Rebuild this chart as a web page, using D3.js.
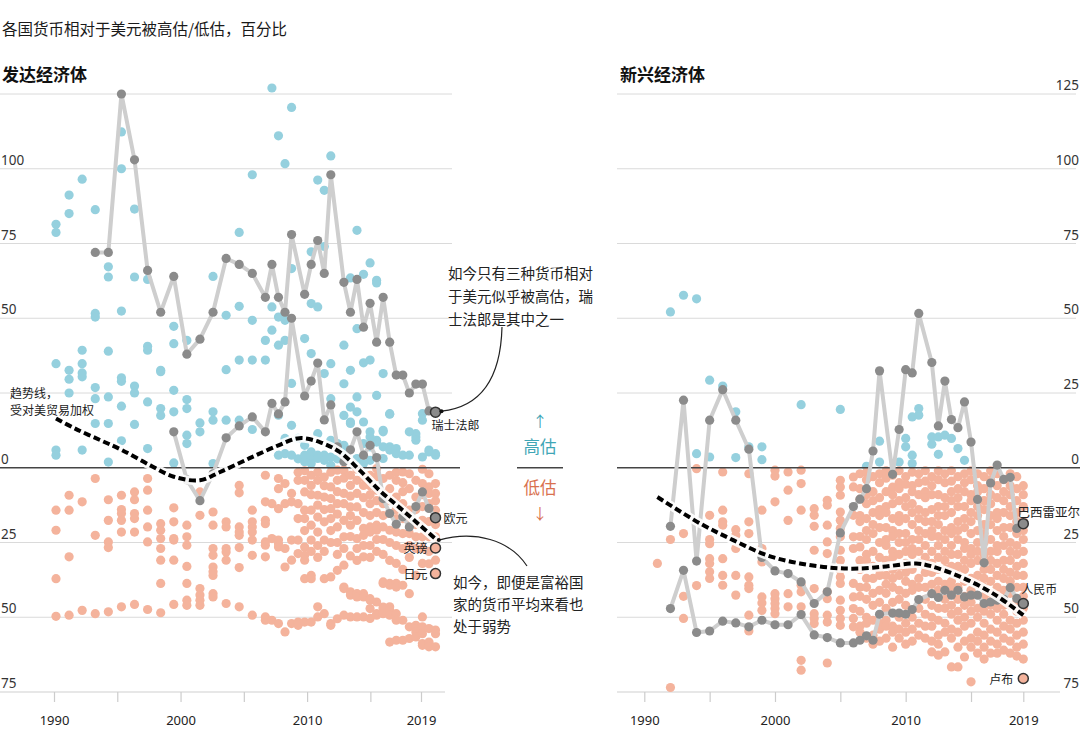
<!DOCTYPE html>
<html><head><meta charset="utf-8">
<script src="https://cdn.jsdelivr.net/npm/d3@7"></script>
<style>
body{margin:0;background:#fff;}
svg{display:block;font-family:"Noto Sans CJK SC","Noto Sans",sans-serif;}
</style></head><body>
<script>
// ---------------- DATA ----------------
const periods = [1990,1991,1992,1993,1994,1995,1996,1997,1998,1999,2000,2001,2002,2003,2004,2005,2006,
  2006.5,2007,2007.5,2008,2008.5,2009,2009.5,2010,2010.5,2011,2011.5,2012,2012.5,2013,2013.5,2014,2014.5,
  2015,2015.5,2016,2016.5,2017,2017.5,2018,2018.5,2019];

// Developed economies: all currencies, % over(+)/under(-) valued vs US dollar
const devValues = [
  [81.4,78.7,34.8,5.9,4.2,-14.2,-20.9,-37.1,-49.7],
  [91.2,85,32.6,29.6,25,-9.2,-14.2,-29.8,-49.3],
  [96.5,39.3,34.8,31.7,30.4,5.9,-11.4,-47.7],
  [86.3,51.6,50.4,26.8,23.1,14.8,-3.6,-22.6,-48.8],
  [67.2,63.8,39,23.7,14.8,1.9,-10.7,-17.6,-24.8,-26.7,-48.2],
  [112.3,100,52.4,30.1,28.9,20.6,9,-9.2,-14,-15.3,-17.6,-21.5,-46.5],
  [86.5,63.8,27.3,25,14.5,-8.1,-10.7,-15.3,-17,-21.5,-45.7],
  [63,40.6,39.3,22,6.4,-3.6,-7.5,-14.2,-19.8,-24.8,-47.4],
  [32.6,32.1,19.8,17.5,-18.7,-20.9,-23.7,-27,-30.9,-38.7,-48.5],
  [47.3,41.5,25.9,18.7,1.6,-13.4,-18.1,-23.7,-24.2,-30.9,-45.7],
  [42.6,22.8,19.8,10.9,8.1,-19.2,-23.1,-25.9,-33,-38.7,-44.3,-46],
  [15,12,-8.1,-15.9,-40.4,-42.6,-44.3,-46],
  [64,18.7,15.9,1.4,-14.8,-19.2,-27,-29.3,-33.2,-34.8,-36,-42.1,-43.2],
  [51,32.8,15.9,-18.1,-19.8,-27,-28.2,-30.9,-45.4],
  [78.7,54,36,15.9,-5.9,-8.4,-19.8,-21.5,-22.6,-26.7,-33.4,-46.5],
  [98,49.3,36,12.8,-14.2,-18.1,-19.8,-21.5,-24.2,-29.3,-49.3],
  [42.6,36,-2.5,-11.4,-17.6,-18.7,-24.8,-25.9,-29.8,-49.9,-51],
  [127,53.8,46,-12,-23.7,-51],
  [111,50.4,41,17.6,4.2,-3.6,-7,-13.7,-24.2,-25.4,-26.5,-52.1],
  [101.7,49.3,42.6,9.8,4.7,-5.3,-12,-27,-33.2,-54.9],
  [120.5,66.6,28.2,14.2,4.2,-8.6,-11.4,-24.2,-30.9,-52.1],
  [9.8,3,-1.5,-4.2,-12,-17,-24.2,-28.7,-51.6,-52.7],
  [43.2,7.5,4.2,2,-1,-4.2,-8.1,-14.2,-17,-21,-26.5,-29.3,-30.9,-37.1,-51.6],
  [72.2,54.9,38.2,5.3,3.6,2.5,1.4,-2.5,-5.9,-9,-14.2,-19.2,-24.2,-28,-36,-37.1,-51.6],
  [96.2,53.8,11.4,4.2,3.1,-1.4,-4.2,-9.2,-12.5,-16.5,-21.5,-26,-30,-46.5,-49.9],
  [92.8,74,31.5,4.2,2.5,-3.1,-6,-9.8,-14,-18.1,-24.2,-28,-37.1,-48.8],
  [104.3,34.8,23.1,9.2,3.6,0.8,-1.5,-6.4,-10.3,-13.7,-17,-21,-25,-36.5,-52.1,-52.7],
  [8.1,3,-0.8,-4.2,-8,-12,-15.5,-19.8,-25,-29,-34.3,-50.5],
  [41,28.1,17.5,7.5,4.7,-0.8,-3.5,-8.6,-12,-17.6,-23.1,-27,-32.6,-39.9,-40.4,-49.3],
  [63.5,32.6,20.3,15.3,14.8,-2.5,-5.9,-9.5,-13.1,-16,-19.2,-23,-29.5,-41.5,-42.6,-49.9],
  [79.4,46.5,23.7,18.7,3.1,-0.5,-4.2,-8.6,-13.1,-17.6,-23.7,-27,-31,-42.1,-43.2,-49.9],
  [64.7,35.1,15.3,8.1,1.4,-3.1,-5.9,-10,-15,-20.3,-22.6,-26,-29.8,-42.1,-43.2,-49.9],
  [68.5,36,12,10.3,7,2.5,-2.5,-6,-9,-12,-16,-19.8,-21.5,-26,-30,-43.8,-44.3,-47.1,-50.4],
  [62.7,61.8,24.2,9.2,8.6,-0.3,-3,-7.5,-11,-15,-19.2,-20.9,-24,-28,-44.9,-48.8,-49.3],
  [31.5,12.5,12,7,3.1,-3.6,-8.6,-12,-16,-19.8,-24,-29,-38.2,-38.7,-46.6,-47.1,-48.8],
  [18.1,17.9,7,5.9,-2.5,-7,-11,-15.3,-20.9,-25,-31,-38.7,-39.3,-46.5,-47.7,-49.3,-58.3],
  [6.4,4.7,-1.5,-4.2,-9.8,-14,-17,-21.5,-26,-32,-38.7,-39.9,-48.8,-51,-57.7],
  [4.2,-1.4,-5,-8,-12,-17,-22,-27,-34,-39.3,-51,-57.7],
  [12,4.2,-2,-7,-14.2,-18,-22,-26,-30,-42.1,-53.2,-57.1],
  [11.4,10.3,9.2,-4.2,-9.8,-14,-19,-23.1,-27,-36,-52.7,-53.8,-54.9,-56.6],
  [18.1,15.9,3.6,-0.5,-5.3,-9,-13,-17.6,-23.1,-27,-32,-49.9,-53.2,-55.5,-58.8,-59.4],
  [5.9,5.3,-2,-6.4,-8.6,-12,-18,-23.1,-28,-32.1,-53.8,-58.3,-58.8,-59.9],
  [4.7,4.2,-5.3,-8.6,-11,-14.2,-17,-19,-23.1,-30.9,-54.3,-55.5,-59.9]
];

// Emerging economies
const emgValues = [
  [],
  [-32],
  [52.1,-24,-73.5],
  [57.7,-22,-43,-50.4],
  [56.5,4.7,-0.3,-39.4],
  [29.3,3.6,-15.9,-24,-25.4,-30.4,-32,-34.8,-37],
  [27.3,-1.4,-14.2,-18.1,-19.2,-30.4,-36,-39.3],
  [18.7,3.4,-20.7,-22.6,-27,-36,-42.6],
  [7,-2,-18.1,-22,-36.5,-39.3,-40.4,-49.3,-54.6],
  [7,2.7,-14.2,-27,-31.5,-43.2,-45.2,-47.7],
  [-0.8,-2.8,-11.4,-42.1,-43.8,-45.4,-47.1,-48.8],
  [-1.4,-7.5,-17.6,-42.1,-46.5],
  [21.1,-0.8,-5.3,-14.2,-39.3,-41.5,-46.5,-64.4,-67.7],
  [-13.7,-15.9,-19.6,-27.6,-40.4,-48.8,-50.4,-52.1],
  [-10.9,-12.5,-19.2,-24.8,-28.7,-41.5,-43.8,-49.3,-51.6,-65.3],
  [19.5,-4.2,-6.4,-9.2,-14.8,-17.6,-20.3,-23.1,-27.6,-31,-34.3,-36.5,-38.7,-44.3,-47.7,-50.4,-52.7],
  [-3.1,-6.4,-15.9,-23.1,-27,-38.7,-43.2,-47.1,-50.4,-53.2],
  [-2,-7,-10.5,-16,-18,-23,-26.5,-31,-34,-40,-43,-48,-53,-55],
  [0.5,-1.5,-4,-9,-12,-17,-21,-24,-29,-31,-37,-40,-44,-50,-52,-57],
  [-3,-8,-11,-15,-19,-22,-28,-33,-37,-42,-46,-51,-56,-59],
  [8.9,1.9,-2,-5,-10,-14,-16,-20,-25,-30,-34,-36,-41,-45,-52,-54,-58],
  [-1,-3.5,-8,-13,-15,-20,-24,-26,-31,-36,-39,-42,-47,-51,-53,-57],
  [-2.5,-6.5,-9,-12,-17,-21,-23,-28,-30,-34,-37,-40,-45,-53,-55,-60],
  [1.9,-1,-5,-7,-11,-16,-18,-22,-25,-29,-33,-36,-41,-44,-50,-54,-57],
  [9.8,7,-3,-5.5,-10,-13,-17,-22,-25,-28,-32,-35,-38,-42,-46,-52,-55,-59],
  [17,4.2,1.4,-1.5,-6,-8,-12,-15,-19,-24,-27,-29,-34,-39,-41,-50,-54,-58],
  [19.8,17.6,-2,-5,-9,-14,-17,-21,-24,-28,-32,-37,-40,-47,-52,-56],
  [-1,-4.5,-8,-10,-15,-18,-22,-26,-30,-33,-35,-40,-44,-49,-53,-57],
  [10.3,7.9,-3,-6,-9,-14,-18,-21,-23,-28,-32,-35,-39,-46,-50,-53,-58,-61.6],
  [10.3,4.5,-1,-4,-9,-13,-16,-19,-23,-26,-30,-34,-38,-41,-47,-51,-56,-59,-62.7],
  [10.9,-2,-5,-10,-13,-16,-21,-24,-28,-31,-34,-39,-44,-47,-52,-55,-61.6],
  [9.8,-1,-4.5,-8,-11,-15,-20,-22,-26,-29,-33,-38,-40,-46,-49,-54,-57,-66.6],
  [6.4,-3,-7,-10,-13,-18,-21,-24,-29,-33,-36,-40,-44,-48,-51,-55,-60,-66.6],
  [2.5,-2,-5,-8,-13,-17,-20,-25,-27,-31,-34,-38,-43,-46,-50,-53,-58,-63.3],
  [-1,-4,-9,-11,-15,-18,-22,-27,-29,-32,-37,-41,-45,-48,-52,-57,-60,-71.6],
  [-2,-6,-8,-13,-16,-21,-25,-28,-31,-36,-39,-47,-50,-55,-58,-62],
  [-3,-7,-11,-14,-19,-22,-25,-29,-34,-37,-40,-43,-48,-52,-56,-60,-64],
  [-1,-4,-9,-12,-16,-19,-24,-28,-31,-34,-38,-42,-46,-49,-54,-58,-62],
  [-2,-6,-10,-15,-17,-21,-26,-28,-32,-36,-40,-43,-47,-51,-55,-59,-62],
  [-4,-8,-11,-15,-20,-23,-26,-31,-34,-37,-41,-46,-49,-53,-57,-61],
  [-2,-6,-9,-13,-16,-20,-25,-28,-31,-35,-38,-42,-46,-51,-54,-58,-62],
  [-3,-7,-11,-15,-18,-22,-26,-29,-33,-36,-40,-45,-48,-52,-56,-60,-63],
  [-6,-9,-13,-18,-21,-24,-28,-32,-36,-40,-43,-47,-51,-55,-59,-64]
];

// Highlighted currencies
const swissYears = [1993,1994,1995,1996,1997,1998,1999,2000,2001,2002,2003,2004,2005,2006,2006.5,2007,2007.5,2008,2009,2009.5,2010,2010.5,2011,2012,2012.5,2013,2013.5,2014,2014.5,2015,2015.5,2016,2016.5,2017,2017.5,2018,2018.5,2019];
const swissValues = [72,72,125,103,66,52,64,38,43,52,70,68,65,57,68,57,52,78,58,68,76,65,98,62,52,63,47,55,42,57,42,31,31,25,28,28,19,18.6];
const euroYears = [1999,2000,2001,2002,2003,2004,2005,2006,2006.5,2007,2007.5,2008,2009,2009.5,2010,2010.5,2011,2011.5,2012,2012.5,2013,2013.5,2014,2014.5,2015,2015.5,2016,2016.5,2017,2017.5,2018,2018.5,2019];
const euroValues = [12,-4,-11,-2,10,14,17,12,21.5,18,22,50,24,29,35,16,21,7,2,6,12,4.2,7.5,3.4,-10.3,-15.3,-18.9,-16.4,-19.8,-13,-8.1,-13.6,-16.7];
const brlYears = [1992,1993,1994,1995,1996,1997,1998,1999,2000,2001,2002,2003,2004,2005,2006,2006.5,2007,2007.5,2008,2009,2009.5,2010,2010.5,2011,2012,2012.5,2013,2013.5,2014,2014.5,2015,2015.5,2016,2016.5,2017,2017.5,2018,2018.5,2019];
const brlValues = [-19.6,22.6,-31.2,15.9,26.1,15.9,6.2,-30,-34.5,-35.4,-38.2,-45.4,-41.5,-21.8,-13,-10.5,-7,5.6,32.4,-2.2,12.8,32.8,31.7,51.6,35.2,14,29,16.1,13.4,22,8.6,-10.6,-31.8,-5.1,0.9,-3.9,-3.2,-20.3,-18.7];
const cnyYears = brlYears;
const cnyValues = [-47.1,-34.3,-55.1,-54.6,-51.3,-51.9,-53.2,-51,-52.5,-52.5,-49.1,-55.9,-56.8,-58.6,-58.6,-57.7,-56.2,-57.7,-49,-48.6,-48.6,-49,-47.4,-44.1,-42.1,-43.4,-41,-42.6,-41,-43.2,-42.6,-42.6,-45.4,-44.9,-44.3,-44,-40.1,-43.7,-45.4];

// 2019 end-of-series markers without a full history line
const gbpValue = -26.8, jpyValue = -35.4, rubValue = -70.5;

// Trend lines, weighted by trade with the US
const trendDevYears = [1990,1991.5,1993.4,1995,1997.2,1999,2001,2002.5,2004.8,2007,2008.6,2010.2,2011.7,2013.2,2014.7,2016.3,2017.8,2019.1];
const trendDevValues = [16.5,13,9.2,6,0.8,-3,-4.2,-1.5,3.2,7.5,9.9,8.5,5.2,-0.8,-7.5,-13.5,-19.2,-24.2];
const trendEmgYears = [1991,1994.3,1996.8,1999.4,2001.9,2004.5,2006.5,2008.5,2010.8,2012,2014.2,2016.7,2019];
const trendEmgValues = [-9.8,-18.7,-24.2,-29.3,-32,-33.5,-33.7,-33,-32,-33,-36.5,-42.1,-49.3];

const gridValues = [125,100,75,50,25,-25,-50];
const leftLabels = [100,75,50,0,-25,-50,-75];
const rightLabels = [125,100,75,50,25,0,-25,-50,-75];
const yearTicks = [1990,1995,2000,2005,2010,2015,2019];
const yearLabels = [1990,2000,2010,2019];

// ---------------- DRAW ----------------
const W = 1080, H = 754;
const FONT = '"Noto Sans CJK SC","Noto Sans",sans-serif';
const BLUE = "#95d0de", SALMON = "#f4b39c", GDOT = "#8b8b8b", GLINE = "#cecece";
const TEAL = "#3fa6b6", RED = "#d9714f";

const svg = d3.select("body").append("svg").attr("width", W).attr("height", H);

const y = d3.scaleLinear().domain([-75,125]).range([692,94]);
const xL = d3.scaleLinear().domain([1990,2019]).range([56,435.5]);
const xLaxis = d3.scaleLinear().domain([1990,2019]).range([54,421]);
const xR = d3.scaleLinear().domain([1990,2019]).range([644.3,1023.3]);

function txt(g, x, yy, s, opt={}) {
  return g.append("text").attr("x", x).attr("y", yy).text(s)
    .attr("dominant-baseline","central")
    .attr("font-family", FONT)
    .attr("font-size", opt.size || 13)
    .attr("font-weight", opt.weight || 400)
    .attr("fill", opt.fill || "#222")
    .attr("text-anchor", opt.anchor || "start");
}

// titles
txt(svg, 2, 28, "各国货币相对于美元被高估/低估，百分比", {size:15.5, fill:"#1a1a1a"});
txt(svg, 2, 73, "发达经济体", {size:17, weight:700, fill:"#111"});
txt(svg, 620, 73, "新兴经济体", {size:17, weight:700, fill:"#111"});

function flatten(vals){
  const out=[];
  periods.forEach((p,i)=>vals[i].forEach(v=>out.push({year:p, value:v})));
  return out;
}
function zip(ys, vs){ return ys.map((yr,i)=>({year:yr, value:vs[i]})); }

function panel(opt){
  const g = svg.append("g");
  g.selectAll("line.grid").data(gridValues).join("line")
    .attr("x1", opt.gx0).attr("x2", opt.gx1)
    .attr("y1", d=>y(d)).attr("y2", d=>y(d))
    .attr("stroke","#dadada").attr("stroke-width",1);
  g.append("line").attr("x1",opt.gx0).attr("x2",opt.bx1)
    .attr("y1",y(-75)).attr("y2",y(-75)).attr("stroke","#cfcfcf").attr("stroke-width",1.2);
  g.selectAll("text.ylab").data(opt.labels).join("text")
    .attr("x", opt.lx).attr("y", d=>y(d)-4)
    .attr("text-anchor", opt.lanchor)
    .attr("font-family",'"Noto Sans",sans-serif').attr("font-size",13.5).attr("fill","#333")
    .text(d=>Math.abs(d));
  const ax = d3.axisBottom(opt.xa).tickValues(yearTicks).tickSize(10).tickPadding(14)
    .tickFormat(d=> yearLabels.includes(d) ? String(d) : "");
  g.append("g").attr("transform",`translate(0,${y(-75)})`).call(ax)
    .call(s=>s.select(".domain").remove())
    .call(s=>s.selectAll("line").attr("stroke","#cccccc").attr("stroke-width",1.2))
    .call(s=>s.selectAll("text").attr("font-family",'"Noto Sans",sans-serif').attr("font-size",13).attr("fill","#222"));
  const pts = flatten(opt.values);
  g.selectAll("circle.pt").data(pts).join("circle")
    .attr("cx", d=>opt.x(d.year)).attr("cy", d=>y(d.value)).attr("r",4.6)
    .attr("fill", d=> d.value>0 ? BLUE : SALMON);
  g.append("line").attr("x1",opt.gx0).attr("x2",opt.zx1)
    .attr("y1",y(0)).attr("y2",y(0)).attr("stroke","#444").attr("stroke-width",1.3);
  const line = d3.line().x(d=>opt.x(d.year)).y(d=>y(d.value));
  opt.series.forEach(s=>{
    g.append("path").datum(s).attr("d",line).attr("fill","none")
      .attr("stroke",GLINE).attr("stroke-width",4).attr("stroke-linejoin","round");
  });
  opt.series.forEach(s=>{
    g.selectAll(null).data(s.slice(0,-1)).join("circle")
      .attr("cx",d=>opt.x(d.year)).attr("cy",d=>y(d.value)).attr("r",4.6).attr("fill",GDOT);
  });
  const tline = d3.line().x(d=>opt.x(d.year)).y(d=>y(d.value)).curve(d3.curveCatmullRom.alpha(0.5));
  g.append("path").datum(opt.trend).attr("d",tline).attr("fill","none")
    .attr("stroke","#fff").attr("stroke-width",9).attr("stroke-opacity",0.9);
  g.append("path").datum(opt.trend).attr("d",tline).attr("fill","none")
    .attr("stroke","#000").attr("stroke-width",4).attr("stroke-dasharray","7,3.5");
  opt.series.forEach(s=>{
    const d = s[s.length-1];
    g.append("circle").attr("cx",opt.x(d.year)).attr("cy",y(d.value)).attr("r",5)
      .attr("fill",GDOT).attr("stroke","#333").attr("stroke-width",1.5);
  });
  opt.extraMarkers.forEach(v=>{
    g.append("circle").attr("cx",opt.x(2019)).attr("cy",y(v)).attr("r",5)
      .attr("fill",SALMON).attr("stroke","#333").attr("stroke-width",1.5);
  });
  return g;
}

panel({
  values: devValues, x: xL, xa: xLaxis, gx0: 0, gx1: 452, bx1: 445, zx1: 460,
  labels: leftLabels, lx: 1, lanchor: "start",
  series: [zip(swissYears, swissValues), zip(euroYears, euroValues)],
  trend: zip(trendDevYears, trendDevValues),
  extraMarkers: [gbpValue, jpyValue]
});
panel({
  values: emgValues, x: xR, xa: xR, gx0: 617, gx1: 1076, bx1: 1060, zx1: 1080,
  labels: rightLabels, lx: 1079, lanchor: "end",
  series: [zip(brlYears, brlValues), zip(cnyYears, cnyValues)],
  trend: zip(trendEmgYears, trendEmgValues),
  extraMarkers: [rubValue]
});

// marker labels
const xe = xL(2019), xr = xR(2019);
txt(svg, xe-4, y(swissValues[swissValues.length-1])+12, "瑞士法郎", {size:12});
txt(svg, xe+8, y(euroValues[euroValues.length-1]), "欧元", {size:12});
txt(svg, xe-8, y(gbpValue), "英镑", {size:12, anchor:"end"});
txt(svg, xe-8, y(jpyValue), "日元", {size:12, anchor:"end"});
txt(svg, 1080, y(brlValues[brlValues.length-1])-12, "巴西雷亚尔", {size:12.5, anchor:"end"});
txt(svg, xr-2, y(cnyValues[cnyValues.length-1])-15, "人民币", {size:12});
txt(svg, xr-10, y(rubValue), "卢布", {size:12, anchor:"end"});

// trend label
txt(svg, 10, 392, "趋势线，", {size:12});
txt(svg, 10, 409, "受对美贸易加权", {size:12});

// annotations
["如今只有三种货币相对","于美元似乎被高估，瑞","士法郎是其中之一"].forEach((s,i)=>
  txt(svg, 448, 272 + i*23, s, {size:14.5}));
const sx = xe+6, sy = y(swissValues[swissValues.length-1])-1;
svg.append("path").attr("d",`M502,327 Q500,405 ${sx},${sy}`).attr("fill","none").attr("stroke","#222").attr("stroke-width",1.2);
svg.append("circle").attr("cx",sx).attr("cy",sy).attr("r",2).attr("fill","#111");

["如今，即便是富裕国","家的货币平均来看也","处于弱势"].forEach((s,i)=>
  txt(svg, 453, 581 + i*22, s, {size:14.5}));
const tx = xL(trendDevYears[trendDevYears.length-1])+2, ty = y(trendDevValues[trendDevValues.length-1]);
svg.append("path").attr("d",`M${tx},${ty} C475,530 510,540 527,566`).attr("fill","none").attr("stroke","#222").attr("stroke-width",1.2);
svg.append("circle").attr("cx",tx).attr("cy",ty).attr("r",2).attr("fill","#111");

// centre legend
txt(svg, 540, 420, "↑", {size:15, fill:TEAL, anchor:"middle"});
txt(svg, 540, 446, "高估", {size:16.5, fill:TEAL, anchor:"middle"});
svg.append("line").attr("x1",517).attr("x2",563).attr("y1",y(0)).attr("y2",y(0)).attr("stroke","#444").attr("stroke-width",1.3);
txt(svg, 540, 487, "低估", {size:16.5, fill:RED, anchor:"middle"});
txt(svg, 540, 512, "↓", {size:15, fill:RED, anchor:"middle"});
</script>
</body></html>
